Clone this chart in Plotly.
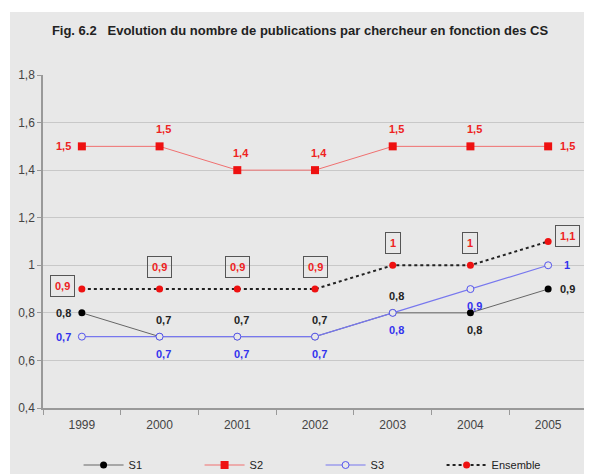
import plotly.graph_objects as go

years = ["1999", "2000", "2001", "2002", "2003", "2004", "2005"]
s1 = [0.8, 0.7, 0.7, 0.7, 0.8, 0.8, 0.9]
s2 = [1.5, 1.5, 1.4, 1.4, 1.5, 1.5, 1.5]
s3 = [0.7, 0.7, 0.7, 0.7, 0.8, 0.9, 1.0]
ensemble = [0.9, 0.9, 0.9, 0.9, 1.0, 1.0, 1.1]

# where each value label sits relative to its point: L=left, T=top, B=bottom, R=right
s1_pos = ["L", "T", "T", "T", "T", "B", "R"]
s2_pos = ["L", "T", "T", "T", "T", "T", "R"]
s3_pos = ["L", "B", "B", "B", "B", "B", "R"]
ens_pos = ["L", "T", "T", "T", "T", "T", "TR"]


def fmt(v):
    # french decimal comma
    s = f"{v:.1f}".replace(".", ",")
    return s[:-2] if s.endswith(",0") else s


FONT = "Liberation Sans, Arial, sans-serif"
OFFS = {"L": (-18, 0), "T": (4, -17), "B": (4, 17), "R": (19, 0), "TR": (19, -6)}

fig = go.Figure()

fig.add_trace(go.Scatter(
    x=years, y=s1, name="S1", mode="lines+markers",
    line=dict(color="#666666", width=1),
    marker=dict(color="black", size=7),
))
fig.add_trace(go.Scatter(
    x=years, y=s2, name="S2", mode="lines+markers",
    line=dict(color="#f07070", width=1),
    marker=dict(color="#ee1111", size=8, symbol="square"),
))
fig.add_trace(go.Scatter(
    x=years, y=s3, name="S3", mode="lines+markers",
    line=dict(color="#7777ee", width=1.2),
    marker=dict(color="#e8e8e8", size=7, symbol="circle",
                line=dict(color="#5555ee", width=1)),
))
fig.add_trace(go.Scatter(
    x=years, y=ensemble, name="Ensemble", mode="lines+markers",
    line=dict(color="#222222", width=2, dash="dot"),
    marker=dict(color="#ee1111", size=7),
))


def add_labels(vals, pos, color, boxed=False):
    for i, (v, p) in enumerate(zip(vals, pos)):
        ax, ay = OFFS[p]
        kw = {}
        if boxed:
            kw = dict(bordercolor="#555555", borderwidth=1, borderpad=4)
            if p == "T":
                ax, ay = 0, -22
            elif p == "L":
                ax, ay = -19, -3
        fig.add_annotation(
            x=i, y=v, text=fmt(v), showarrow=True, arrowcolor="rgba(0,0,0,0)",
            ax=ax, ay=ay, font=dict(color=color, size=11, family=FONT, weight="bold"),
            **kw,
        )


add_labels(s1, s1_pos, "#222222")
add_labels(s2, s2_pos, "#ee2222")
add_labels(s3, s3_pos, "#3333ee")
add_labels(ensemble, ens_pos, "#ee2222", boxed=True)

# grey card behind the whole chart
fig.add_shape(type="rect", xref="paper", yref="paper",
              x0=-0.0607, x1=1.05, y0=-0.3, y1=1.189,
              fillcolor="#e8e8e8", line=dict(width=0), layer="below")

# page body adds 8px on the left/top, margins are shifted to match
fig.update_layout(
    width=592, height=474,
    margin=dict(l=35, r=13, t=67, b=74),
    paper_bgcolor="white", plot_bgcolor="rgba(0,0,0,0)",
    separators=", ",
    font=dict(family=FONT, size=12, color="#444444"),
    title=dict(text="<b>Fig. 6.2   Evolution du nombre de publications par chercheur en fonction des CS</b>",
               x=292 / 592, xref="container", xanchor="center", y=1 - 22 / 474, yanchor="middle",
               font=dict(size=13, color="#222222")),
    showlegend=True,
    # container refs so the legend does not push the bottom margin
    legend=dict(orientation="h", xref="container", yref="container",
                x=0.528, xanchor="center", y=1 - 457 / 474, yanchor="middle",
                font=dict(size=11, color="#222222"), bgcolor="rgba(0,0,0,0)",
                itemwidth=40, traceorder="normal", entrywidth=66),
)
fig.update_xaxes(
    type="category", range=[-0.5, 6.5], showgrid=False, automargin=False,
    showline=True, linecolor="#999999", linewidth=1.5,
    ticks="outside", tickson="boundaries", ticklen=5, tickcolor="#999999",
    ticklabelstandoff=5, tickfont=dict(size=12, color="#444444"),
)
fig.update_yaxes(
    range=[0.4, 1.8], dtick=0.2, showgrid=True, gridcolor="#c8c8c8", gridwidth=1,
    showline=True, linecolor="#999999", linewidth=1.5, zeroline=False, automargin=False,
    ticks="outside", ticklen=4, tickcolor="#999999",
    tickfont=dict(size=12, color="#444444"),
)

fig.write_html("out.html")
